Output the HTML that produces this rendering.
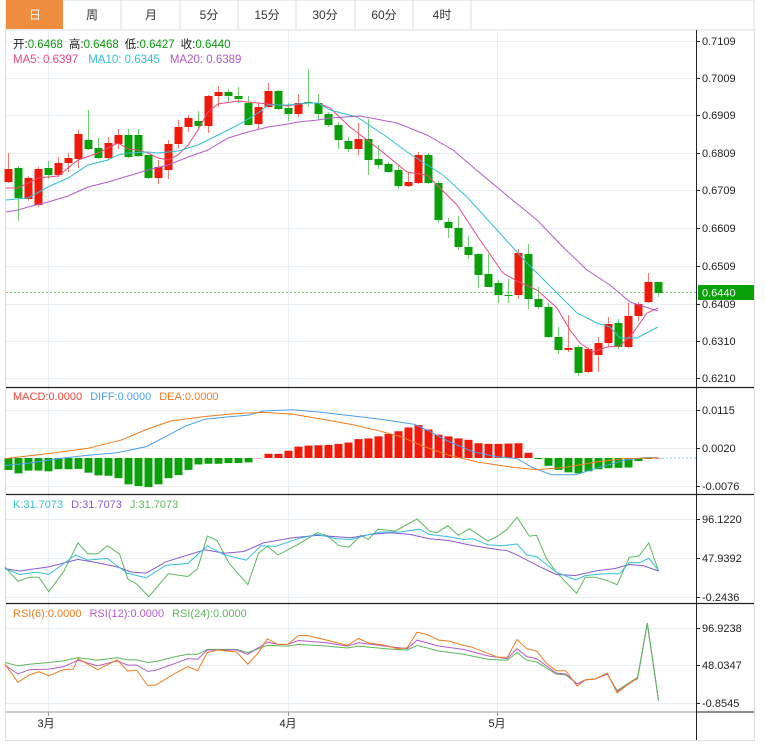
<!DOCTYPE html>
<html><head><meta charset="utf-8">
<style>
html,body{margin:0;padding:0;background:#fff;}
body{width:765px;height:745px;overflow:hidden;font-family:"Liberation Sans","Noto Sans CJK SC",sans-serif;}
svg text{font-family:"Liberation Sans","Noto Sans CJK SC",sans-serif;}
</style></head><body>
<svg id="s" width="765" height="745" xmlns="http://www.w3.org/2000/svg">
<rect x="0" y="0" width="765" height="745" fill="#fff"/>
<!-- tabs -->
<rect x="6" y="0" width="748" height="30" fill="#fff" stroke="#ddd"/>
<rect x="6" y="0" width="57" height="29" fill="#f08c3e"/>
<g stroke="#ddd"><line x1="121" y1="0" x2="121" y2="29"/><line x1="180" y1="0" x2="180" y2="29"/><line x1="238" y1="0" x2="238" y2="29"/><line x1="296" y1="0" x2="296" y2="29"/><line x1="355" y1="0" x2="355" y2="29"/><line x1="413" y1="0" x2="413" y2="29"/><line x1="471" y1="0" x2="471" y2="29"/></g>
<g font-size="12" text-anchor="middle" fill="#333">
<text x="35" y="19" fill="#fff">日</text><text x="92" y="19">周</text><text x="151" y="19">月</text><text x="209" y="19">5分</text><text x="267" y="19">15分</text><text x="325" y="19">30分</text><text x="384" y="19">60分</text><text x="442" y="19">4时</text>
</g>
<!-- frame -->
<line x1="5.5" y1="30" x2="5.5" y2="740" stroke="#ddd"/>
<line x1="754.5" y1="30" x2="754.5" y2="740" stroke="#ddd"/>
<line x1="5" y1="740.5" x2="755" y2="740.5" stroke="#ddd"/>
<g id="grid" stroke="#e6eef3" stroke-width="1"></g>
<g id="plot"></g>
<line x1="696.5" y1="30" x2="696.5" y2="740" stroke="#222"/>
<g stroke="#222" stroke-width="1.2"><line x1="6" y1="387.5" x2="754" y2="387.5"/><line x1="6" y1="494.5" x2="754" y2="494.5"/><line x1="6" y1="603.5" x2="754" y2="603.5"/></g>
<line x1="6" y1="712" x2="696" y2="712" stroke="#999"/>
<line x1="696" y1="712" x2="754" y2="712" stroke="#222"/>
<g id="axis" font-size="11" fill="#222"></g>
<!-- legends -->
<text x="13" y="48" font-size="11.5"><tspan fill="#222">开:</tspan><tspan fill="#0a9a0a">0.6468</tspan><tspan fill="#222" dx="6">高:</tspan><tspan fill="#0a9a0a">0.6468</tspan><tspan fill="#222" dx="6">低:</tspan><tspan fill="#0a9a0a">0.6427</tspan><tspan fill="#222" dx="6">收:</tspan><tspan fill="#0a9a0a">0.6440</tspan></text>
<text x="13" y="63" font-size="11.5"><tspan fill="#ec4a7c">MA5: 0.6397</tspan><tspan fill="#33bfd9" dx="10">MA10: 0.6345</tspan><tspan fill="#b25dc9" dx="10">MA20: 0.6389</tspan></text>
<text x="13" y="400" font-size="11"><tspan fill="#f0443a">MACD:0.0000</tspan><tspan fill="#4aa0f0" dx="8">DIFF:0.0000</tspan><tspan fill="#f07c1e" dx="8">DEA:0.0000</tspan></text>
<text x="13" y="508" font-size="11"><tspan fill="#33bfd9">K:31.7073</tspan><tspan fill="#8a5ad0" dx="8">D:31.7073</tspan><tspan fill="#5cb85c" dx="8">J:31.7073</tspan></text>
<text x="13" y="617" font-size="11"><tspan fill="#f07c1e">RSI(6):0.0000</tspan><tspan fill="#b25dc9" dx="8">RSI(12):0.0000</tspan><tspan fill="#5cb85c" dx="8">RSI(24):0.0000</tspan></text>
</svg>
<script>
var NS="http://www.w3.org/2000/svg";
function el(p,t,a){var e=document.createElementNS(NS,t);for(var k in a)e.setAttribute(k,a[k]);p.appendChild(e);return e;}
var grid=document.getElementById('grid'),plot=document.getElementById('plot'),axis=document.getElementById('axis');
// horizontal grid + labels
var main=[["0.7109",41],["0.7009",78],["0.6909",115],["0.6809",153],["0.6709",190],["0.6609",228],["0.6509",266],["0.6409",304],["0.6310",341],["0.6210",378]];
var others=[["0.0115",410],["0.0020",448],["-0.0076",486],["96.1220",519],["47.9392",558],["-0.2436",597],["96.9238",628],["48.0347",665],["-0.8545",703]];
main.concat(others).forEach(function(m){el(grid,'line',{x1:6,y1:m[1]+.5,x2:696,y2:m[1]+.5});el(axis,'line',{x1:696,y1:m[1]+.5,x2:700,y2:m[1]+.5,stroke:'#222'});var t=el(axis,'text',{x:702,y:m[1]+4});t.textContent=m[0];});
[48,288,497].forEach(function(x){el(grid,'line',{x1:x+.5,y1:30,x2:x+.5,y2:712});el(axis,'line',{x1:x+.5,y1:712,x2:x+.5,y2:716,stroke:'#999'});});
[["3月",46],["4月",288],["5月",497]].forEach(function(m){var t=el(axis,'text',{x:m[1],y:727,'text-anchor':'middle'});t.textContent=m[0];});
// current price
el(plot,'line',{x1:6,y1:292.5,x2:696,y2:292.5,stroke:'#7fd07f','stroke-dasharray':'2,2'});
el(axis,'rect',{x:698,y:285,width:56,height:15,fill:'#0aa00a'});
var pt=el(axis,'text',{x:702,y:296.5,fill:'#fff'});pt.textContent='0.6440';
// candles [bodyTop,bodyBot,high,low,color r/g]
var C=[[169,182,153,183,'r'],[168,198,166,221,'g'],[178,199,176,201,'r'],[169,205,167,207,'r'],[168,175,161,179,'g'],[163,175,157,177,'r'],[158,163,153,172,'r'],[134,159,130,168,'r'],[140,149,110,150,'g'],[148,158,138,159,'g'],[143,158,137,159,'r'],[135,144,129,149,'r'],[135,157,129,158,'g'],[135,156,129,157,'g'],[155,178,155,179,'g'],[167,178,160,184,'r'],[144,170,140,179,'r'],[127,144,120,148,'r'],[118,127,115,132,'r'],[121,126,111,130,'g'],[96,126,95,133,'r'],[92,96,86,107,'r'],[92,96,89,103,'g'],[96,99,87,103,'g'],[103,125,96,125,'g'],[107,124,103,129,'r'],[91,107,83,108,'r'],[91,109,90,110,'g'],[108,114,103,121,'g'],[103,114,94,117,'r'],[102,103,69,107,'g'],[103,114,94,120,'g'],[114,125,112,127,'g'],[125,140,122,149,'g'],[141,149,137,152,'g'],[139,149,123,155,'r'],[139,160,119,175,'g'],[159,165,145,169,'g'],[164,172,162,173,'g'],[170,186,166,189,'g'],[182,186,172,187,'r'],[155,183,152,184,'r'],[155,183,153,184,'g'],[183,220,181,223,'g'],[222,228,218,238,'g'],[228,247,216,250,'g'],[247,255,236,259,'g'],[254,275,253,288,'g'],[274,287,254,287,'g'],[283,295,280,303,'g'],[295,296,279,303,'g'],[253,295,249,299,'r'],[254,299,244,309,'g'],[299,307,287,309,'g'],[307,337,303,338,'g'],[337,350,327,354,'g'],[348,350,315,352,'r'],[347,373,345,376,'g'],[349,372,347,373,'r'],[343,355,337,372,'r'],[324,343,317,347,'r'],[323,347,319,349,'g'],[316,347,303,348,'r'],[304,316,302,321,'r'],[282,302,273,303,'r'],[282,293,282,297,'g']];
C.forEach(function(c,i){var x=8.5+10*i;var col=c[4]=='r'?'#f01a0a':'#0aa00a';var wc=c[4]=='r'?'#f47a70':'#6cd06c';
el(plot,'line',{x1:x,y1:c[2],x2:x,y2:c[3],stroke:wc,'stroke-width':1});
el(plot,'rect',{x:x-4,y:c[0],width:8,height:Math.max(1,c[1]-c[0]),fill:col});});
function line(pts,col,dx,sx,oy,sy,w){var d=pts.map(function(p){return ((p[0]*sx)+dx).toFixed(1)+','+(oy+p[1]*sy).toFixed(1);}).join(' ');el(plot,'polyline',{points:d,fill:'none',stroke:col,'stroke-width':w||1});}
// MAs (actual coords)
line([[6,188],[18,188],[28,183],[38,178],[58,176],[68,168],[78,160],[98,153],[108,148],[118,143],[128,149],[138,150],[148,153],[158,158],[168,160],[178,155],[188,145],[198,130],[208,112],[218,104],[238,101],[258,103],[268,104],[288,106],[298,104],[308,103],[318,103],[330,108],[350,127],[380,150],[407,172],[427,175],[457,205],[480,240],[503,273],[517,281],[537,290],[557,308],[570,330],[580,343],[593,352],[607,347],[620,346],[633,333],[647,313],[658,308]],'#ec4a7c',0,1,0,1);
line([[6,200],[28,198],[48,187],[68,178],[88,165],[108,160],[118,155],[128,153],[148,152],[158,153],[178,151],[198,145],[218,135],[238,125],[258,113],[268,105],[288,105],[308,103],[318,103],[330,110],[357,117],[387,137],[407,152],[443,175],[467,197],[497,230],[527,263],[557,293],[577,313],[597,323],[610,327],[620,338],[637,338],[658,327]],'#33bfd9',0,1,0,1);
line([[6,212],[18,210],[28,207],[48,202],[68,196],[88,187],[108,182],[128,176],[148,170],[168,165],[188,157],[208,150],[228,138],[248,132],[268,127],[288,124],[298,122],[318,120],[330,118],[360,116],[397,123],[427,135],[453,150],[480,173],[510,198],[537,220],[563,247],[587,270],[610,285],[630,302],[658,311]],'#b25dc9',0,1,0,1);
// MACD bars
var zero=458;
var gb=[248,258,250,250,252,246,246,245,256,264,265,272,290,295,298,290,272,263,248,232,230,230,228,228,226,214];
var rb=[201,201,192,180,177,176,175,172,168,158,156,150,143,135,124,117,130,145,150,156,160,170,172,172,171,170,198,214];
var gb2=[236,248,255,258,252,246,243,242,241,222,216,214];
function bar(i,zy,col){var y=385+zy/2.92;var x=8.5+10*i;var top=Math.min(y,zero),h=Math.max(1,Math.abs(y-zero));el(plot,'rect',{x:x-4,y:top,width:8,height:h,fill:col});}
gb.forEach(function(v,i){bar(i,v,i==25?'#f4b0b0':'#0aa00a');});
rb.forEach(function(v,i){bar(26+i,v,i==27?'#0aa00a':'#f01a0a');});
gb2.forEach(function(v,i){bar(54+i,v,i==11?'#f4b0b0':'#0aa00a');});
el(plot,'line',{x1:658,y1:458,x2:696,y2:458,stroke:'#9ad0f0','stroke-dasharray':'2,2'});
var S=1/2.05, Y=1/2.92;
line([[10,235],[60,228],[120,215],[180,205],[240,198],[300,180],[340,150],[380,120],[420,100],[470,93],[510,88],[540,76],[600,72],[660,80],[720,90],[780,100],[850,115],[880,135],[920,165],[970,195],[1020,210],[1060,215],[1090,240],[1130,262],[1180,262],[1230,240],[1280,220],[1320,212],[1350,212]],'#4aa0f0',0,S,385,Y);
line([[10,215],[100,200],[180,185],[250,160],[300,130],[350,105],[420,92],[480,84],[540,80],[600,85],[660,100],[720,115],[780,135],[820,150],[870,180],[920,205],[980,225],[1050,240],[1100,247],[1160,240],[1220,225],[1280,215],[1350,213]],'#f07c1e',0,S,385,Y);
// KDJ
var KY=1/2.92;
line([[10,210],[37,252],[60,240],[80,240],[100,282],[130,225],[160,140],[180,172],[200,172],[220,148],[245,172],[262,245],[280,260],[305,297],[345,230],[385,238],[405,215],[425,120],[445,133],[470,200],[508,262],[530,170],[548,150],[570,175],[610,145],[650,110],[670,118],[695,148],[715,152],[740,118],[755,130],[775,100],[810,105],[855,70],[880,105],[895,110],[918,90],[940,118],[962,98],[990,125],[1000,135],[1020,120],[1040,100],[1060,65],[1085,120],[1100,118],[1120,185],[1140,225],[1182,287],[1200,240],[1220,240],[1245,250],[1265,262],[1290,182],[1310,178],[1330,140],[1350,222]],'#5cb85c',0,S,495,KY);
line([[10,215],[40,222],[100,210],[160,188],[200,198],[240,210],[270,225],[300,228],[340,195],[420,160],[460,170],[500,165],[540,140],[600,125],[650,118],[720,125],[760,115],[800,110],[840,115],[880,128],[920,133],[960,145],[1000,155],[1040,163],[1060,175],[1100,205],[1140,232],[1180,235],[1220,222],[1260,215],[1290,203],[1320,207],[1350,222]],'#8a5ad0',0,S,495,KY);
line([[10,215],[40,232],[75,225],[100,232],[155,175],[180,190],[220,185],[260,228],[300,242],[340,205],[385,200],[425,148],[460,175],[505,190],[535,148],[565,150],[610,128],[650,115],[690,128],[720,130],[750,118],[780,108],[820,108],[860,100],[880,115],[920,122],[950,130],[970,128],[1000,145],[1030,148],[1060,143],[1080,175],[1100,180],[1140,225],[1180,248],[1200,235],[1240,230],[1270,230],[1290,197],[1310,198],[1330,185],[1350,220]],'#33bfd9',0,S,495,KY);
// RSI
var RY=0.329;
line([[10,190],[37,200],[60,195],[100,190],[130,185],[160,175],[200,183],[240,175],[262,182],[280,182],[303,190],[320,187],[360,172],[385,165],[405,165],[425,150],[485,150],[508,160],[548,138],[590,140],[612,135],[670,140],[712,146],[735,140],[790,148],[835,152],[855,138],[900,155],[950,165],[1000,180],[1040,183],[1060,160],[1080,183],[1100,188],[1140,225],[1160,228],[1183,255],[1200,243],[1220,240],[1245,225],[1265,275],[1307,235],[1327,70],[1350,305]],'#5cb85c',0,S,600,RY);
line([[10,198],[37,225],[60,212],[100,210],[130,203],[160,183],[200,200],[240,185],[262,198],[280,198],[303,217],[320,213],[360,192],[385,178],[405,180],[425,152],[485,152],[508,165],[548,128],[570,135],[590,135],[612,123],[670,130],[712,140],[735,130],[790,140],[835,148],[855,122],[900,140],[950,150],[1000,170],[1040,178],[1060,148],[1080,172],[1100,178],[1140,222],[1160,225],[1183,255],[1200,243],[1220,240],[1245,225],[1265,278],[1307,238],[1327,72],[1350,305]],'#b25dc9',0,S,600,RY);
line([[10,195],[37,250],[60,228],[80,218],[100,230],[130,212],[150,210],[160,178],[180,195],[200,212],[240,182],[262,216],[280,213],[303,260],[320,258],[360,222],[385,202],[405,215],[425,160],[445,152],[485,158],[508,195],[530,160],[548,118],[570,135],[590,135],[612,108],[630,108],[670,122],[712,138],[735,117],[755,130],[790,138],[815,148],[835,145],[855,98],[875,105],[900,122],[920,125],[950,138],[965,142],[1000,162],[1020,174],[1040,174],[1060,120],[1080,148],[1100,155],[1120,192],[1140,215],[1160,215],[1183,262],[1200,243],[1220,240],[1245,222],[1265,282],[1300,243],[1307,240]],'#f07c1e',0,S,600,RY);
line([[1307,238],[1327,70],[1350,305]],'#5cb85c',0,S,600,RY);
</script>
</body></html>
